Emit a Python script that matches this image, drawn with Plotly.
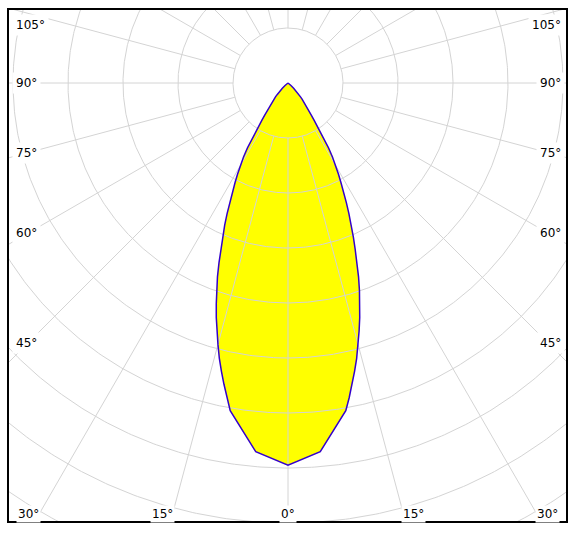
import numpy as np
import plotly.graph_objects as go

# ---- data (luminous intensity per angle, symmetric distribution) ----
ANGLES = [0, 5, 10, 11, 12, 13, 14, 15, 16, 17, 18, 19, 20, 21, 22, 23, 24, 25, 26, 27, 28, 29, 30,
          31, 32, 33, 34, 35, 36, 37, 38, 39, 40, 41, 42, 43, 44, 45, 47, 50, 55, 60, 70, 80, 90]
INTENSITY = [695, 673, 605, 583, 560, 538, 516, 492, 469, 446, 422, 399, 375, 350, 326, 304, 283, 262, 242, 223, 205, 189, 173,
             157, 139, 118, 98, 83, 72, 63, 56, 50, 44, 39, 34, 29, 25, 21, 14, 7, 2, 0, 0, 0, 0]

RING_VALUES = [100, 200, 300, 400, 500, 600, 700, 800, 900, 1000]
SPOKE_ANGLES = list(range(0, 360, 15))
SIDE_LABEL_ANGLES = [105, 90, 75, 60, 45]
BOTTOM_LABEL_ANGLES = [30, 15, 0]

# ---- layout constants (pixels) ----
W, H = 577, 534
CX, CY = 288, 83          # pole position in pixels
PPU = 0.55                # pixels per intensity unit
PL, PR, PT, PB = 8, 567, 9, 522

def to_data(px, py):
    return (px - CX) / PPU, (CY - py) / PPU

x_range = [(PL - CX) / PPU, (PR - CX) / PPU]
y_range = [-(PB - CY) / PPU, (CY - PT) / PPU]

# ---- curve ----
ang = np.array(ANGLES, dtype=float)
inten = np.array(INTENSITY, dtype=float)
th = np.concatenate([ang[::-1], -ang[1:]])
rr = np.concatenate([inten[::-1], inten[1:]])
cx = rr * np.sin(np.radians(th))
cy = -rr * np.cos(np.radians(th))

fig = go.Figure()
fig.add_trace(go.Scatter(x=cx, y=cy, mode="lines", fill="toself",
                         fillcolor="#ffff00", line=dict(width=0),
                         hoverinfo="skip", showlegend=False))

# ---- grid ----
gx, gy = [], []
t = np.radians(np.linspace(0, 360, 721))
for r in RING_VALUES:
    gx += list(r * np.sin(t)) + [None]
    gy += list(-r * np.cos(t)) + [None]
r0, r1 = RING_VALUES[0], RING_VALUES[-1] * 1.2
for a in SPOKE_ANGLES:
    s, c = np.sin(np.radians(a)), np.cos(np.radians(a))
    gx += [r0 * s, r1 * s, None]
    gy += [-r0 * c, -r1 * c, None]
fig.add_trace(go.Scatter(x=gx, y=gy, mode="lines",
                         line=dict(color="#d4d4d4", width=1),
                         hoverinfo="skip", showlegend=False))

# ---- outline ----
fig.add_trace(go.Scatter(x=cx, y=cy, mode="lines",
                         line=dict(color="#3300cc", width=1.5),
                         hoverinfo="skip", showlegend=False))

# ---- angle labels ----
font = dict(family="DejaVu Sans", size=12, color="#000000")
ann = []
for a in SIDE_LABEL_ANGLES:
    ta = np.tan(np.radians(a))
    py = CY + (CX - 28) / ta if abs(ta) < 1e6 else CY
    py = max(py, 24.5)
    for side in (-1, 1):
        px = 12 if side < 0 else 565
        x, y = to_data(px, py)
        ann.append(dict(x=x, y=y, text=f"{a}°", showarrow=False,
                        xanchor="left" if side < 0 else "right", yanchor="middle",
                        bgcolor="#ffffff", borderpad=3, font=font))
for a in BOTTOM_LABEL_ANGLES:
    py = 514
    off = (py - CY) * np.tan(np.radians(a))
    sides = (-1, 1) if a != 0 else (0,)
    for side in sides:
        if side == 0:
            px, anc = CX, "center"
        elif side < 0:
            px, anc = CX - off + 2, "right"
        else:
            px, anc = CX + off - 2, "left"
        x, y = to_data(px, py)
        ann.append(dict(x=x, y=y, text=f"{a}°", showarrow=False,
                        xanchor=anc, yanchor="middle",
                        bgcolor="#ffffff", borderpad=1, font=font))

fig.update_layout(
    width=W, height=H,
    margin=dict(l=PL, r=W - PR, t=PT, b=H - PB, pad=0),
    paper_bgcolor="#ffffff", plot_bgcolor="#ffffff",
    xaxis=dict(range=x_range, visible=False, fixedrange=True),
    yaxis=dict(range=y_range, visible=False, fixedrange=True),
    annotations=ann,
    shapes=[dict(type="rect", xref="paper", yref="paper", x0=0, x1=1, y0=0, y1=1,
                 line=dict(color="#000000", width=2), layer="above")],
    showlegend=False,
)

fig.write_html("out.html")
